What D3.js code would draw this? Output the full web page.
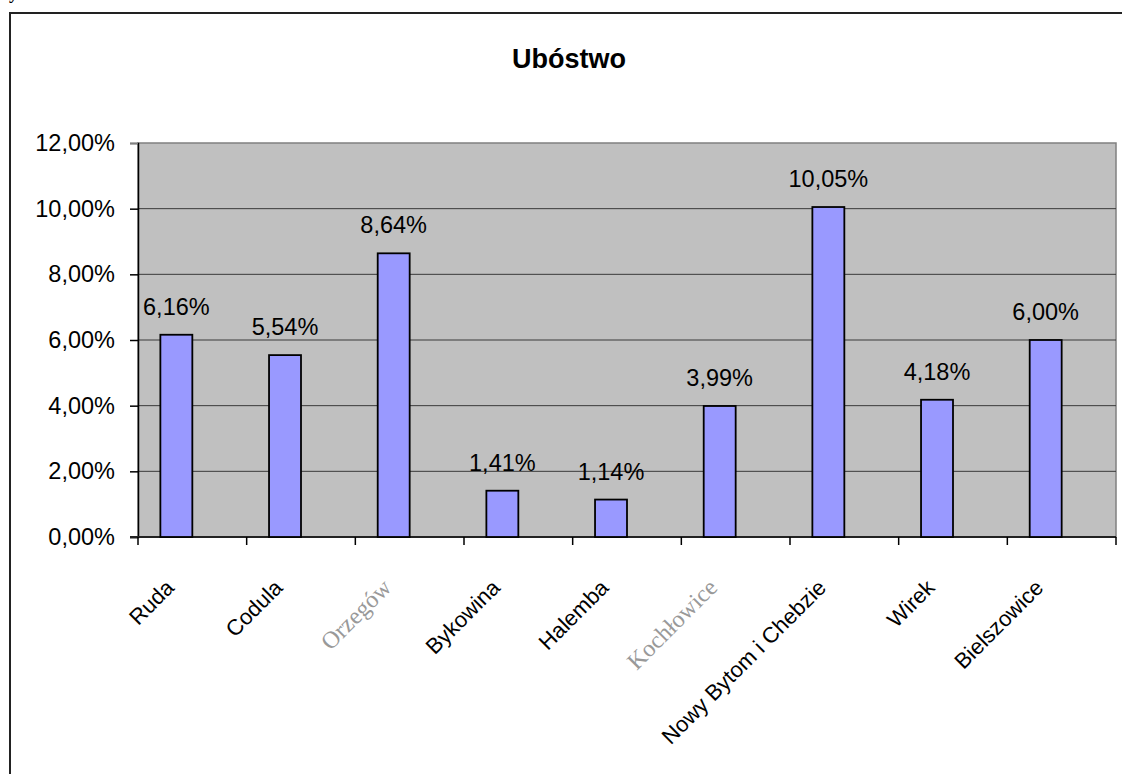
<!DOCTYPE html>
<html><head><meta charset="utf-8">
<script src="https://cdn.jsdelivr.net/npm/d3@7"></script>
<style>body{margin:0;background:#fff;} svg{display:block;}</style>
</head><body>
<script>
const categories = ["Ruda","Codula","Orzegów","Bykowina","Halemba","Kochłowice","Nowy Bytom i Chebzie","Wirek","Bielszowice"];
const values = [6.16, 5.54, 8.64, 1.41, 1.14, 3.99, 10.05, 4.18, 6.00];
const fadedLabels = ["Orzegów","Kochłowice"];
const yTicks = [0, 2, 4, 6, 8, 10, 12];
const seriesSlots = ["s1","s2"];
const chartTitle = "Ubóstwo";

(function () {
const W = 1122, H = 774;
const svg = d3.select("body").append("svg").attr("width", W).attr("height", H);
const pL = 138, pR = 1116, pT = 143, pB = 537;
const fmt = v => v.toFixed(2).replace(".", ",") + "%";
const FS = 23.5;

// outer chart border (extends beyond the window)
svg.append("rect").attr("x", 10).attr("y", 13).attr("width", 1140).attr("height", 800)
  .attr("fill", "#fff").attr("stroke", "#222").attr("stroke-width", 2);

svg.append("text").attr("x", 9).attr("y", -1).attr("font-family", "Liberation Serif")
  .attr("font-weight", "bold").attr("font-size", 18).text("y");

const x0 = d3.scaleBand().domain(categories).range([pL, pR]).padding(0);
const x1 = d3.scaleBand().domain(seriesSlots).range([0, x0.bandwidth()]).paddingInner(0).paddingOuter(0.7);
const y = d3.scaleLinear().domain([0, 12]).range([pB, pT]);

// plot area
svg.append("rect").attr("x", pL).attr("y", pT).attr("width", pR - pL).attr("height", pB - pT)
  .attr("fill", "#c0c0c0").attr("stroke", "#808080").attr("stroke-width", 1.5);

// gridlines
svg.append("g").selectAll("line").data(yTicks.filter(t => t > 0 && t < 12)).join("line")
  .attr("x1", pL).attr("x2", pR).attr("y1", d => y(d)).attr("y2", d => y(d))
  .attr("stroke", "#3a3a3a").attr("stroke-width", 1);

// y axis
const yAxis = svg.append("g").attr("transform", `translate(${pL},0)`)
  .call(d3.axisLeft(y).tickValues(yTicks).tickSize(8).tickPadding(15).tickFormat(fmt));
yAxis.select(".domain").attr("stroke", "#000").attr("stroke-width", 1.5);
yAxis.selectAll(".tick line").attr("stroke", d => d === 12 ? "#808080" : "#000").attr("stroke-width", 1.5);
yAxis.selectAll(".tick text").attr("font-family", "Liberation Sans, Arial").attr("font-size", FS).attr("fill", "#000");

// x axis line and ticks at band boundaries
svg.append("line").attr("x1", pL - 8).attr("x2", pR).attr("y1", pB).attr("y2", pB)
  .attr("stroke", "#222").attr("stroke-width", 2);
const bounds = categories.map(c => x0(c)).concat([pR]);
svg.append("g").selectAll("line").data(bounds).join("line")
  .attr("x1", d => d).attr("x2", d => d).attr("y1", pB).attr("y2", pB + 8)
  .attr("stroke", "#000").attr("stroke-width", 1.5);

// bars
svg.append("g").selectAll("rect").data(categories).join("rect")
  .attr("x", (c) => x0(c) + x1("s1"))
  .attr("width", x1.bandwidth())
  .attr("y", (c, i) => y(values[i]))
  .attr("height", (c, i) => y(0) - y(values[i]))
  .attr("fill", "#9999ff").attr("stroke", "#000").attr("stroke-width", 1.8);

// data labels
svg.append("g").selectAll("text").data(categories).join("text")
  .attr("x", c => x0(c) + x1("s1") + x1.bandwidth() / 2)
  .attr("y", (c, i) => y(values[i]) - 20)
  .attr("text-anchor", "middle")
  .attr("font-family", "Liberation Sans, Arial").attr("font-size", FS).attr("fill", "#000")
  .text((c, i) => fmt(values[i]));

// category labels
svg.append("g").selectAll("text").data(categories).join("text")
  .attr("transform", c => `translate(${x0(c) + x0.bandwidth() / 2 - 17},${pB + 52}) rotate(-45)`)
  .attr("text-anchor", "end")
  .attr("font-family", c => fadedLabels.includes(c) ? "Liberation Serif" : "Liberation Sans, Arial")
  .attr("font-size", c => fadedLabels.includes(c) ? 24 : 22)
  .attr("fill", c => fadedLabels.includes(c) ? "#999" : "#000")
  .text(c => c);

// title
svg.append("text").attr("x", 569).attr("y", 68).attr("text-anchor", "middle")
  .attr("font-family", "Liberation Sans, Arial").attr("font-weight", "bold").attr("font-size", 27)
  .text(chartTitle);
})();
</script>
</body></html>
